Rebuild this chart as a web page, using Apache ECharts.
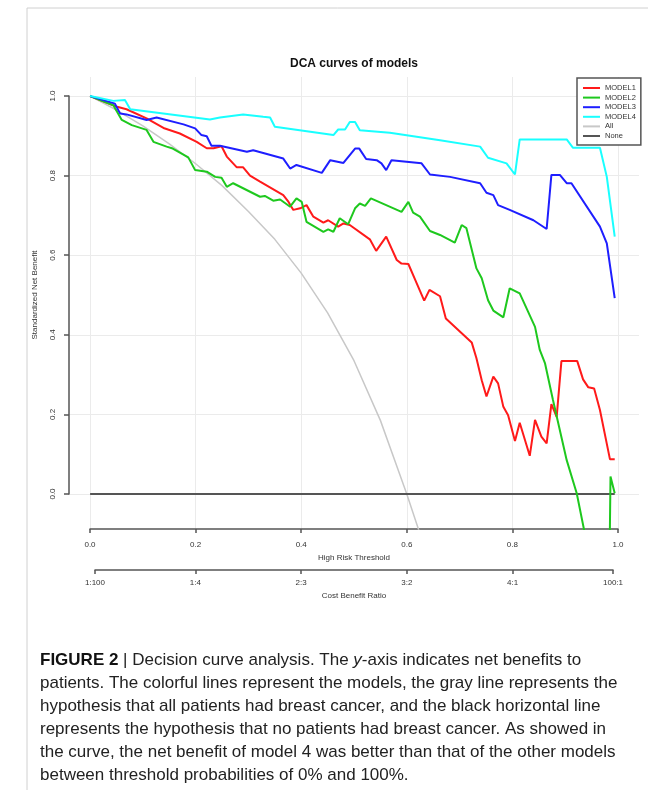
<!DOCTYPE html>
<html>
<head>
<meta charset="utf-8">
<title>DCA curves of models</title>
<script src="https://cdn.jsdelivr.net/npm/echarts@6.0.0/dist/echarts.min.js"></script>
<style>
html, body { margin: 0; padding: 0; background: #fff; }
#chart { width: 648px; height: 790px; }
</style>
</head>
<body>
<div id="chart"></div>
<script>
// values (threshold -> standardized net benefit)
var model1X = [0, 0.051, 0.069, 0.107, 0.139, 0.17, 0.202, 0.221, 0.234, 0.249, 0.259, 0.278, 0.29, 0.303, 0.322, 0.366, 0.376, 0.385, 0.398, 0.41, 0.423, 0.442, 0.451, 0.47, 0.48, 0.492, 0.53, 0.542, 0.561, 0.581, 0.59, 0.603, 0.616, 0.633, 0.643, 0.663, 0.674, 0.723, 0.732, 0.742, 0.751, 0.764, 0.773, 0.783, 0.792, 0.805, 0.814, 0.833, 0.843, 0.855, 0.865, 0.874, 0.884, 0.893, 0.923, 0.934, 0.944, 0.955, 0.966, 0.985, 0.994];
var model1Y = [1.0, 0.973, 0.967, 0.944, 0.92, 0.906, 0.885, 0.869, 0.869, 0.874, 0.848, 0.821, 0.821, 0.8, 0.785, 0.751, 0.734, 0.714, 0.718, 0.726, 0.697, 0.682, 0.688, 0.672, 0.68, 0.676, 0.64, 0.611, 0.647, 0.588, 0.579, 0.578, 0.538, 0.486, 0.513, 0.497, 0.441, 0.381, 0.341, 0.286, 0.245, 0.295, 0.278, 0.219, 0.198, 0.133, 0.179, 0.096, 0.186, 0.144, 0.127, 0.226, 0.194, 0.334, 0.334, 0.288, 0.268, 0.265, 0.211, 0.087, 0.087];

var model2X = [0, 0.044, 0.06, 0.079, 0.107, 0.12, 0.145, 0.155, 0.186, 0.199, 0.221, 0.237, 0.249, 0.259, 0.271, 0.322, 0.331, 0.347, 0.36, 0.379, 0.391, 0.401, 0.41, 0.442, 0.451, 0.461, 0.473, 0.489, 0.502, 0.511, 0.521, 0.532, 0.59, 0.603, 0.612, 0.625, 0.644, 0.663, 0.691, 0.704, 0.713, 0.732, 0.742, 0.754, 0.764, 0.783, 0.795, 0.814, 0.843, 0.852, 0.862, 0.877, 0.903, 0.922, 0.945, 0.965, 0.983, 0.986, 0.994];
var model2Y = [1.0, 0.977, 0.94, 0.927, 0.915, 0.885, 0.873, 0.869, 0.846, 0.814, 0.81, 0.797, 0.795, 0.772, 0.781, 0.747, 0.749, 0.737, 0.74, 0.722, 0.743, 0.734, 0.684, 0.659, 0.665, 0.659, 0.693, 0.678, 0.718, 0.73, 0.724, 0.743, 0.709, 0.734, 0.707, 0.697, 0.661, 0.651, 0.632, 0.676, 0.668, 0.567, 0.542, 0.487, 0.461, 0.444, 0.517, 0.504, 0.42, 0.362, 0.328, 0.236, 0.085, 0.002, -0.15, -0.6, -0.3, 0.044, 0.002];

var model3X = [0, 0.047, 0.057, 0.069, 0.107, 0.126, 0.177, 0.199, 0.211, 0.221, 0.23, 0.246, 0.297, 0.309, 0.366, 0.379, 0.391, 0.439, 0.455, 0.48, 0.502, 0.51, 0.523, 0.543, 0.552, 0.561, 0.571, 0.628, 0.644, 0.682, 0.739, 0.751, 0.764, 0.773, 0.795, 0.84, 0.865, 0.874, 0.89, 0.903, 0.912, 0.966, 0.979, 0.994];
var model3Y = [1.0, 0.981, 0.956, 0.954, 0.94, 0.946, 0.929, 0.919, 0.902, 0.899, 0.875, 0.875, 0.86, 0.864, 0.843, 0.818, 0.827, 0.807, 0.839, 0.832, 0.868, 0.868, 0.842, 0.839, 0.831, 0.814, 0.839, 0.831, 0.803, 0.797, 0.781, 0.757, 0.751, 0.726, 0.714, 0.688, 0.666, 0.802, 0.802, 0.781, 0.781, 0.672, 0.63, 0.492];

var model4X = [0, 0.044, 0.066, 0.076, 0.227, 0.246, 0.29, 0.328, 0.341, 0.35, 0.461, 0.47, 0.483, 0.492, 0.502, 0.511, 0.568, 0.663, 0.739, 0.754, 0.789, 0.805, 0.814, 0.903, 0.915, 0.966, 0.979, 0.994];
var model4Y = [1.0, 0.988, 0.99, 0.967, 0.941, 0.946, 0.954, 0.948, 0.946, 0.923, 0.902, 0.916, 0.916, 0.935, 0.935, 0.914, 0.908, 0.889, 0.873, 0.845, 0.831, 0.803, 0.891, 0.891, 0.87, 0.87, 0.797, 0.647];

var allX = [0, 0.05, 0.1, 0.15, 0.2, 0.25, 0.3, 0.35, 0.4, 0.45, 0.5, 0.55, 0.6, 0.625];
var allY = [1.0, 0.965, 0.925, 0.88, 0.83, 0.775, 0.71, 0.64, 0.555, 0.455, 0.335, 0.185, 0.0, -0.1];

var noneX = [0, 0.994];
var noneY = [0, 0];

var seriesNames = ['MODEL1', 'MODEL2', 'MODEL3', 'MODEL4', 'All', 'None'];
var seriesColors = ['#ff1a1a', '#1ec81e', '#1e1eff', '#19ffff', '#c8c8c8', '#555555'];

var costBenefitPos = [0.01, 0.2, 0.4, 0.6, 0.8, 0.99];
var costBenefitLabels = ['1:100', '1:4', '2:3', '3:2', '4:1', '100:1'];

var captionLines = [
  '{b|FIGURE 2} | Decision curve analysis. The {i|y}-axis indicates net benefits to',
  'patients. The colorful lines represent the models, the gray line represents the',
  'hypothesis that all patients had breast cancer, and the black horizontal line',
  'represents the hypothesis that no patients had breast cancer. As showed in',
  'the curve, the net benefit of model 4 was better than that of the other models',
  'between threshold probabilities of 0% and 100%.'
];

function zip(xs, ys) {
  var out = [];
  for (var i = 0; i < xs.length; i++) out.push([xs[i], ys[i]]);
  return out;
}

var axisColor = '#555';
var gridColor = '#ebebeb';
var font = 'Liberation Sans';

var myChart = echarts.init(document.getElementById('chart'));

var lineData = [
  zip(model1X, model1Y), zip(model2X, model2Y), zip(model3X, model3Y),
  zip(model4X, model4Y), zip(allX, allY), zip(noneX, noneY)
];
// draw order: All, None under the models
var drawOrder = [4, 5, 0, 1, 2, 3];
var series = drawOrder.map(function (k) {
  return {
    name: seriesNames[k],
    type: 'line',
    xAxisIndex: 2,
    yAxisIndex: 2,
    data: lineData[k],
    showSymbol: false,
    clip: true,
    silent: true,
    color: seriesColors[k],
    lineStyle: { color: seriesColors[k], width: k === 4 ? 1.5 : 2 }
  };
});

var graphic = [
  { type: 'line', shape: { x1: 27, y1: 8, x2: 648, y2: 8 }, style: { stroke: '#d0d0d0', lineWidth: 1 } },
  { type: 'line', shape: { x1: 27, y1: 8, x2: 27, y2: 790 }, style: { stroke: '#d0d0d0', lineWidth: 1 } }
];
captionLines.forEach(function (t, i) {
  graphic.push({
    type: 'text',
    x: 40,
    y: 660 + i * 23,
    style: {
      text: t,
      fontSize: 17,
      fontFamily: font,
      fill: '#222',
      verticalAlign: 'middle',
      rich: {
        b: { fontSize: 17, fontFamily: font, fontWeight: 'bold', fill: '#111' },
        i: { fontSize: 17, fontFamily: font, fontStyle: 'italic', fill: '#222' }
      }
    }
  });
});

var option = {
  animation: false,
  backgroundColor: '#fff',
  title: {
    text: 'DCA curves of models',
    left: 349,
    top: 53,
    textAlign: 'center',
    textStyle: { fontSize: 12, fontWeight: 'bold', fontFamily: font, color: '#111' }
  },
  legend: {
    orient: 'vertical',
    left: 577,
    top: 78,
    padding: [6, 5, 5, 6],
    itemWidth: 17,
    itemHeight: 2,
    itemGap: 1.6,
    icon: 'rect',
    selectedMode: false,
    borderColor: '#555',
    borderWidth: 1.5,
    backgroundColor: '#fff',
    textStyle: { fontSize: 7.5, lineHeight: 8, color: '#333', fontFamily: font },
    data: seriesNames
  },
  grid: [
    { left: 90, right: 30, top: 77, bottom: 261 },   // x axis + vertical grid lines
    { left: 69, right: 9, top: 96, bottom: 296 },    // y axis + horizontal grid lines
    { left: 69, right: 9, top: 77, bottom: 261 },    // data region
    { left: 95, right: 35, top: 560, bottom: 220 }   // cost benefit axis
  ],
  xAxis: [
    {
      gridIndex: 0, type: 'value', min: 0, max: 1, interval: 0.2, offset: 3,
      axisLine: { show: true, lineStyle: { color: axisColor, width: 1.5 } },
      axisTick: { show: true, length: 4, lineStyle: { color: axisColor, width: 1.5 } },
      axisLabel: { show: true, fontSize: 8, color: '#333', fontFamily: font, margin: 9, showMinLabel: true, showMaxLabel: true,
        formatter: function (v) { return v.toFixed(1); } },
      splitLine: { show: true, lineStyle: { color: gridColor, width: 1 } },
      name: 'High Risk Threshold', nameLocation: 'middle', nameGap: 21,
      nameTextStyle: { fontSize: 8, color: '#333', fontFamily: font }
    },
    { gridIndex: 1, type: 'value', min: 0, max: 1, show: false },
    { gridIndex: 2, type: 'value', min: -0.04, max: 1.04, show: false },
    {
      gridIndex: 3, type: 'value', min: 0.01, max: 0.99,
      axisLine: { show: true, lineStyle: { color: axisColor, width: 1.5 } },
      axisTick: { show: true, length: 4, customValues: costBenefitPos, lineStyle: { color: axisColor, width: 1.5 } },
      axisLabel: { show: true, fontSize: 8, color: '#333', fontFamily: font, margin: 9, customValues: costBenefitPos,
        formatter: function (v) {
          var best = 0;
          for (var i = 1; i < costBenefitPos.length; i++) {
            if (Math.abs(costBenefitPos[i] - v) < Math.abs(costBenefitPos[best] - v)) best = i;
          }
          return costBenefitLabels[best];
        } },
      splitLine: { show: false },
      name: 'Cost Benefit Ratio', nameLocation: 'middle', nameGap: 22,
      nameTextStyle: { fontSize: 8, color: '#333', fontFamily: font }
    }
  ],
  yAxis: [
    { gridIndex: 0, type: 'value', min: 0, max: 1, show: false },
    {
      gridIndex: 1, type: 'value', min: 0, max: 1, interval: 0.2,
      axisLine: { show: true, lineStyle: { color: axisColor, width: 1.5 } },
      axisTick: { show: true, length: 5, lineStyle: { color: axisColor, width: 1.5 } },
      axisLabel: { show: true, rotate: 90, fontSize: 8, color: '#333', fontFamily: font, margin: 12,
        formatter: function (v) { return v.toFixed(1); } },
      splitLine: { show: true, lineStyle: { color: gridColor, width: 1 } },
      name: 'Standardized Net Benefit', nameLocation: 'middle', nameGap: 30, nameRotate: 90,
      nameTextStyle: { fontSize: 8, color: '#333', fontFamily: font }
    },
    { gridIndex: 2, type: 'value', min: -0.088, max: 1.048, show: false },
    { gridIndex: 3, type: 'value', show: false }
  ],
  graphic: graphic,
  series: series
};

myChart.setOption(option);
</script>
</body>
</html>
